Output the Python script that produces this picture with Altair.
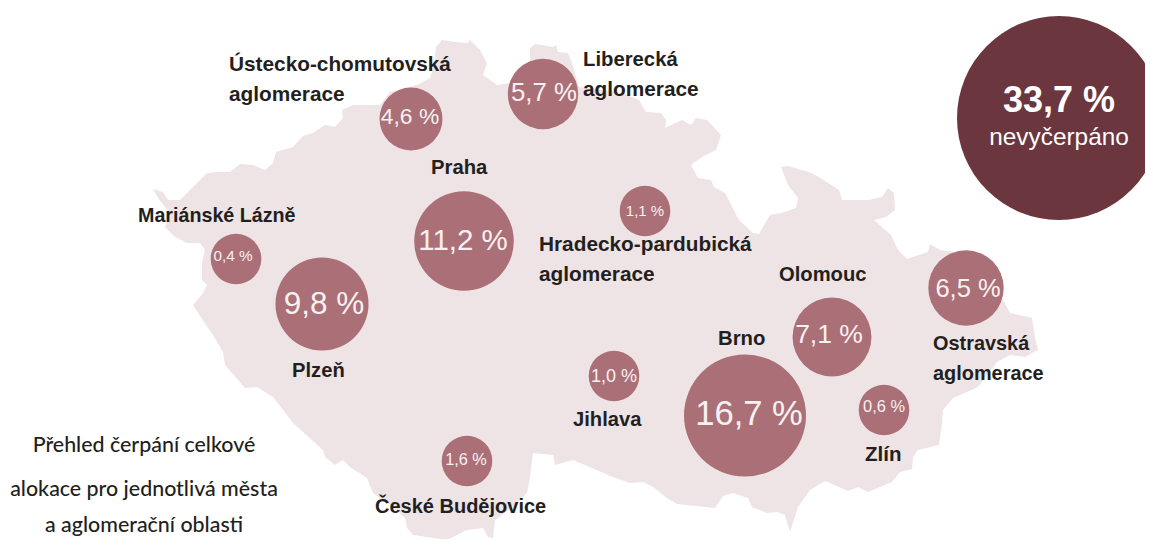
import altair as alt

outline_x = [153,163,168,180,193,207,218,230,240,253,265,273,276,293,303,313,325,335,343,342,353,380,390,417,430,434,436,442,455,467,470,480,487,483,497,510,530,530,535,553,556,558,568,572,579,623,639,646,661,666,665,682,691,696,707,721,716,702,691,698,711,714,725,739,753,759,770,781,796,798,788,781,788,809,819,839,842,868,882,888,894,895,886,874,891,898,907,928,930,940,956,985,1003,1010,1032,1035,1038,1025,1010,997,978,953,943,942,939,918,913,912,900,892,868,858,848,825,810,798,790,785,777,767,752,748,733,723,715,677,667,653,643,630,613,573,555,553,533,530,527,513,495,493,488,483,467,447,413,407,405,397,373,367,350,343,335,325,323,303,293,273,257,245,225,223,213,208,193,203,207,202,202,205,200,187,175,165,170,158]
outline_y = [189,192,200,200,187,173,172,172,164,165,170,163,152,147,136,133,125,127,118,110,105,105,92,85,78,65,47,40,42,43,40,50,63,75,85,83,62,48,44,47,45,52,53,63,87,93,100,112,113,120,128,120,125,118,120,135,150,157,165,178,180,187,193,220,233,234,215,213,208,198,185,167,166,172,177,190,200,200,197,188,193,210,217,220,235,250,259,252,244,250,252,262,300,313,318,337,350,357,355,362,387,398,410,423,445,450,457,469,472,482,492,487,491,481,490,507,532,515,512,513,507,498,493,496,508,504,498,487,482,483,477,460,465,455,453,477,493,507,520,538,537,528,530,540,535,528,518,510,493,478,467,460,465,457,450,432,423,397,387,388,365,352,335,328,305,293,285,280,263,250,243,243,237,227,213,198]

values = [16.7, 11.2, 9.8, 7.1, 6.5, 5.7, 4.6, 1.6, 1.1, 1.0, 0.6, 0.4]
value_labels = ["16,7 %", "11,2 %", "9,8 %", "7,1 %", "6,5 %", "5,7 %", "4,6 %", "1,6 %", "1,1 %", "1,0 %", "0,6 %", "0,4 %"]
bubble_lon = [745, 464, 322, 832, 966, 543, 411, 467, 645, 614, 884, 236]
bubble_lat = [415.5, 241, 304, 337, 288, 94, 119, 461, 211, 376, 410, 259]
label_lon = [749, 463, 324, 829, 968, 544, 410, 466, 645, 614, 884, 233]
label_lat = [415, 241, 305, 335, 289, 93, 117, 460, 211, 377, 407, 256]
label_fonts = [34.6, 29.5, 31.5, 26.5, 25.5, 25.8, 22.8, 16.3, 15, 18, 16.4, 15.3]

unused_value = [33.7]
unused_lon = [1059]
unused_lat = [118]

names = ["Ústecko-chomutovská", "aglomerace", "Liberecká", "aglomerace", "Praha", "Mariánské Lázně",
         "Hradecko-pardubická", "aglomerace", "Olomouc", "Ostravská", "aglomerace", "Brno", "Plzeň",
         "Jihlava", "Zlín", "České Budějovice"]
name_lon = [229, 229, 583, 583, 431, 138, 539, 539, 779, 933, 933, 718, 292, 573, 865, 375]
name_lat = [65, 95, 60, 90, 168, 216, 245, 275, 275, 344, 374, 339, 371, 420, 455, 507]
name_fonts = [20.8, 20.8, 20.3, 20.8, 20.3, 19.7, 20.8, 20.8, 20.2, 19.9, 19.9, 20.3, 20.2, 20.2, 20.5, 20.0]

caption = ["Přehled čerpání celkové", "alokace pro jednotlivá města", "a aglomerační oblasti"]
caption_lat = [446, 490, 526]

projection = dict(type="identity", scale=1, translate=[-8, -8])

ring = [[x, y] for x, y in zip(outline_x, outline_y)]
ring.append(ring[0])
shape = alt.Chart(alt.Data(values=[{"type": "Feature", "properties": {},
                                    "geometry": {"type": "Polygon", "coordinates": [ring]}}])
                  ).mark_geoshape(fill="#eee3e5", stroke="transparent", strokeWidth=0).project(**projection)

size_scale = alt.Scale(type="linear", domain=[0.4, 1.6, 4.6, 16.7, 33.7],
                       range=[2560, 2560, 3969, 14884, 41616])

bubbles = alt.Chart(alt.Data(values=[
    {"value": v, "lon": x, "lat": y} for v, x, y in zip(values, bubble_lon, bubble_lat)
])).mark_circle(color="#ab7077", opacity=1).encode(
    longitude="lon:Q", latitude="lat:Q",
    size=alt.Size("value:Q", scale=size_scale, legend=None),
).project(**projection)

big = alt.Chart(alt.Data(values=[
    {"value": v, "lon": x, "lat": y} for v, x, y in zip(unused_value, unused_lon, unused_lat)
])).mark_circle(color="#6b363e", opacity=1).encode(
    longitude="lon:Q", latitude="lat:Q",
    size=alt.Size("value:Q", scale=size_scale, legend=None),
).project(**projection)

value_text = alt.Chart(alt.Data(values=[
    {"t": t, "lon": x, "lat": y, "fs": f}
    for t, x, y, f in zip(value_labels, label_lon, label_lat, label_fonts)
])).mark_text(color="#f7f1f2", font="Liberation Sans", align="center", baseline="middle").encode(
    longitude="lon:Q", latitude="lat:Q", text="t:N",
    size=alt.Size("fs:Q", scale=None),
).project(**projection)

name_text = alt.Chart(alt.Data(values=[
    {"t": t, "lon": x, "lat": y, "fs": f} for t, x, y, f in zip(names, name_lon, name_lat, name_fonts)
])).mark_text(color="#231f20", font="Liberation Sans", fontWeight="bold",
              align="left", baseline="middle").encode(
    longitude="lon:Q", latitude="lat:Q", text="t:N",
    size=alt.Size("fs:Q", scale=None),
).project(**projection)

caption_text = alt.Chart(alt.Data(values=[
    {"t": t, "lon": 144, "lat": y} for t, y in zip(caption, caption_lat)
])).mark_text(color="#231f20", font="Lato", fontWeight=500, fontSize=21.4,
              align="center", baseline="middle").encode(
    longitude="lon:Q", latitude="lat:Q", text="t:N",
).project(**projection)

big_head = alt.Chart(alt.Data(values=[{"t": "33,7 %", "lon": 1059, "lat": 101}])).mark_text(
    color="white", font="Liberation Sans", fontWeight="bold", fontSize=36,
    align="center", baseline="middle").encode(
    longitude="lon:Q", latitude="lat:Q", text="t:N").project(**projection)

big_sub = alt.Chart(alt.Data(values=[{"t": "nevyčerpáno", "lon": 1059, "lat": 138}])).mark_text(
    color="white", font="Liberation Sans", fontSize=24.4,
    align="center", baseline="middle").encode(
    longitude="lon:Q", latitude="lat:Q", text="t:N").project(**projection)

chart = alt.layer(shape, bubbles, big, value_text, name_text, caption_text, big_head, big_sub
                  ).resolve_scale(size="independent").properties(
    width=1137, height=531, padding=0, autosize=alt.AutoSizeParams(type="none"),
    background="white",
).configure_view(stroke=None)

chart.save("out.html", embed_options={"renderer": "svg", "actions": False})
